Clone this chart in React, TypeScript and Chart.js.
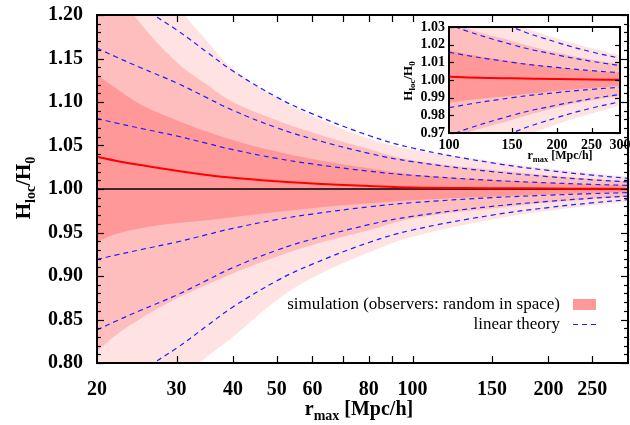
import React, { useEffect, useRef } from "react";
import { Chart, registerables } from "chart.js";

Chart.register(...registerables);

// ---------- data ----------
const rMax = [20, 22, 25, 30, 35, 40, 50, 60, 80, 100, 150, 200, 250, 300];

const simMean = [1.037, 1.0325, 1.0275, 1.021, 1.0162, 1.0128, 1.0088, 1.0062, 1.0035, 1.0018, 1.001, 1.0005, 1.0003, 1.0001];
const sim1Up = [1.131, 1.116, 1.097, 1.079, 1.066, 1.056, 1.043, 1.0345, 1.0238, 1.0168, 1.0105, 1.0071, 1.0052, 1.004];
const sim1Lo = [0.9395, 0.948, 0.955, 0.9605, 0.964, 0.9675, 0.9735, 0.978, 0.9836, 0.9872, 0.9912, 0.9938, 0.9955, 0.9966];
const sim2Up = [1.27, 1.23, 1.19, 1.146, 1.12, 1.1, 1.079, 1.065, 1.046, 1.033, 1.022, 1.0155, 1.0115, 1.009];
const sim2Lo = [0.813, 0.832, 0.851, 0.874, 0.89, 0.903, 0.922, 0.9355, 0.9525, 0.966, 0.9775, 0.9845, 0.9885, 0.991];
const sim3Up = [1.36, 1.32, 1.27, 1.212, 1.17, 1.138, 1.105, 1.084, 1.058, 1.045, 1.032, 1.0235, 1.018, 1.014];
const sim3Lo = [0.7, 0.72, 0.745, 0.78, 0.807, 0.83, 0.872, 0.898, 0.927, 0.945, 0.965, 0.975, 0.981, 0.9855];

const lin1Up = [1.081, 1.076, 1.0697, 1.061, 1.0525, 1.0452, 1.0352, 1.0288, 1.0205, 1.0157, 1.01, 1.0071, 1.0053, 1.0041];
const lin1Lo = [0.919, 0.924, 0.9303, 0.939, 0.9475, 0.9548, 0.9648, 0.9712, 0.9795, 0.9843, 0.99, 0.9929, 0.9947, 0.9959];
const lin2Up = [1.162, 1.152, 1.1394, 1.122, 1.105, 1.0904, 1.0704, 1.0576, 1.041, 1.0314, 1.02, 1.0142, 1.0106, 1.0082];
const lin2Lo = [0.838, 0.848, 0.8606, 0.878, 0.895, 0.9096, 0.9296, 0.9424, 0.959, 0.9686, 0.98, 0.9858, 0.9894, 0.9918];
const lin3Up = [1.243, 1.228, 1.2091, 1.183, 1.1575, 1.1356, 1.1056, 1.0864, 1.0615, 1.0471, 1.03, 1.0213, 1.0159, 1.0123];
const lin3Lo = [0.757, 0.772, 0.7909, 0.817, 0.8425, 0.8644, 0.8944, 0.9136, 0.9385, 0.9529, 0.97, 0.9787, 0.9841, 0.9877];

const refX = [20, 300];
const refY = [1.0, 1.0];

const xTicksMain = [20, 30, 40, 50, 60, 80, 100, 150, 200, 250];
const xTickMarksMain = [30, 40, 50, 60, 70, 80, 90, 100, 150, 200, 250];
const yTicksMain = [0.8, 0.85, 0.9, 0.95, 1.0, 1.05, 1.1, 1.15, 1.2];

const xTicksInset = [100, 150, 200, 250, 300];
const xTickMarksInset = [150, 200, 250];
const yTicksInset = [0.97, 0.98, 0.99, 1.0, 1.01, 1.02, 1.03];

const legendSim = "simulation (observers: random in space)";
const legendLin = "linear theory";

// ---------- styles ----------
const SERIF = '"Liberation Serif", "Times New Roman", serif';
const C_LIGHT = "rgb(255,227,227)";
const C_MED = "rgb(255,190,190)";
const C_DARK = "rgb(255,153,153)";
const C_BLUE = "rgb(30,30,255)";
const C_RED = "rgb(255,0,0)";

function pts(xs: number[], ys: number[]) {
  return xs.map((x, i) => ({ x, y: ys[i] }));
}

function buildDatasets(withRef: boolean, dashW: number, redW: number) {
  const hidden = {
    borderColor: "rgba(0,0,0,0)",
    borderWidth: 0,
    pointRadius: 0,
    tension: 0.4,
  };
  const line = (ys: number[]) => ({
    data: pts(rMax, ys),
    borderColor: C_BLUE,
    borderWidth: dashW,
    borderDash: [5, 4],
    pointRadius: 0,
    fill: false,
    order: 0,
    tension: 0.4,
  });
  const ds: any[] = [];
  ds.push({
    data: pts(rMax, simMean),
    borderColor: C_RED,
    borderWidth: redW,
    pointRadius: 0,
    fill: false,
    order: 0,
    tension: 0.4,
  });
  if (withRef) {
    ds.push({
      data: pts(refX, refY),
      borderColor: "#000",
      borderWidth: 1.5,
      pointRadius: 0,
      fill: false,
      order: 1,
    });
  }
  ds.push(line(lin1Up), line(lin1Lo), line(lin2Up), line(lin2Lo), line(lin3Up), line(lin3Lo));
  ds.push({ ...hidden, data: pts(rMax, sim1Up), fill: "+1", backgroundColor: C_DARK, order: 2 });
  ds.push({ ...hidden, data: pts(rMax, sim1Lo), fill: false, order: 2 });
  ds.push({ ...hidden, data: pts(rMax, sim2Up), fill: "+1", backgroundColor: C_MED, order: 3 });
  ds.push({ ...hidden, data: pts(rMax, sim2Lo), fill: false, order: 3 });
  ds.push({ ...hidden, data: pts(rMax, sim3Up), fill: "+1", backgroundColor: C_LIGHT, order: 4 });
  ds.push({ ...hidden, data: pts(rMax, sim3Lo), fill: false, order: 4 });
  return ds;
}

type Part = [string, boolean];
function drawRich(
  ctx: CanvasRenderingContext2D,
  parts: Part[],
  x: number,
  y: number,
  size: number,
  subSize: number,
  subShift: number,
  bold: boolean
) {
  const f = (s: number) => `${bold ? "bold " : ""}${s}px ${SERIF}`;
  let total = 0;
  for (const [t, sub] of parts) {
    ctx.font = f(sub ? subSize : size);
    total += ctx.measureText(t).width;
  }
  let cx = x - total / 2;
  ctx.textAlign = "left";
  ctx.textBaseline = "alphabetic";
  for (const [t, sub] of parts) {
    ctx.font = f(sub ? subSize : size);
    ctx.fillText(t, cx, y + (sub ? subShift : 0));
    cx += ctx.measureText(t).width;
  }
}

function seg(ctx: CanvasRenderingContext2D, x1: number, y1: number, x2: number, y2: number) {
  ctx.beginPath();
  ctx.moveTo(x1, y1);
  ctx.lineTo(x2, y2);
  ctx.stroke();
}

function frame(
  chart: any,
  xMarks: number[],
  yMajor: number[],
  yMinor: number[],
  majLen: number,
  minLen: number,
  borderW: number
) {
  const { ctx, chartArea: a, scales } = chart;
  const sx = scales.x;
  const sy = scales.y;
  ctx.save();
  ctx.strokeStyle = "#000";
  ctx.lineWidth = 1.2;
  for (const v of xMarks) {
    const px = Math.round(sx.getPixelForValue(v)) + 0.5;
    seg(ctx, px, a.bottom, px, a.bottom - majLen);
    seg(ctx, px, a.top, px, a.top + majLen);
  }
  for (const v of yMajor) {
    const py = Math.round(sy.getPixelForValue(v)) + 0.5;
    seg(ctx, a.left, py, a.left + majLen, py);
    seg(ctx, a.right, py, a.right - majLen, py);
  }
  for (const v of yMinor) {
    const py = Math.round(sy.getPixelForValue(v)) + 0.5;
    seg(ctx, a.left, py, a.left + minLen, py);
    seg(ctx, a.right, py, a.right - minLen, py);
  }
  ctx.lineWidth = borderW;
  ctx.strokeRect(a.left, a.top, a.right - a.left, a.bottom - a.top);
  ctx.restore();
}

function tickLabels(
  chart: any,
  xTicks: number[],
  yTicks: number[],
  font: string,
  xLabelY: number,
  yLabelX: number
) {
  const { ctx, scales } = chart;
  ctx.save();
  ctx.fillStyle = "#000";
  ctx.font = font;
  ctx.textAlign = "center";
  ctx.textBaseline = "middle";
  for (const v of xTicks) ctx.fillText(String(v), scales.x.getPixelForValue(v), xLabelY);
  ctx.textAlign = "right";
  for (const v of yTicks) ctx.fillText(v.toFixed(2), yLabelX, scales.y.getPixelForValue(v));
  ctx.restore();
}

const hiddenScales = (xmin: number, xmax: number, ymin: number, ymax: number) => ({
  x: { type: "logarithmic", min: xmin, max: xmax, display: false },
  y: { type: "linear", min: ymin, max: ymax, display: false },
});

export default function App() {
  const mainRef = useRef<HTMLCanvasElement | null>(null);
  const insetRef = useRef<HTMLCanvasElement | null>(null);

  useEffect(() => {
    const yMinorMain: number[] = [];
    for (let i = 80; i <= 120; i++) if (i % 5 !== 0) yMinorMain.push(i / 100);

    const mainPlugin = {
      id: "mainDecor",
      afterDraw(chart: any) {
        const ctx = chart.ctx as CanvasRenderingContext2D;
        frame(chart, xTickMarksMain, yTicksMain, yMinorMain, 7, 4, 2);
        tickLabels(chart, xTicksMain, yTicksMain, `bold 20px ${SERIF}`, 390, 83);
        ctx.save();
        ctx.fillStyle = "#000";
        drawRich(ctx, [["r", false], ["max", true], [" [Mpc/h]", false]], 359, 415, 20, 14, 5, true);
        ctx.translate(30, 188);
        ctx.rotate(-Math.PI / 2);
        drawRich(ctx, [["H", false], ["loc", true], ["/H", false], ["0", true]], 0, 0, 21, 14, 5, true);
        ctx.restore();
        // legend
        ctx.save();
        ctx.fillStyle = "#000";
        ctx.font = `17px ${SERIF}`;
        ctx.textAlign = "right";
        ctx.textBaseline = "middle";
        ctx.fillText(legendSim, 560, 305);
        ctx.fillText(legendLin, 560, 325);
        ctx.fillStyle = C_DARK;
        ctx.fillRect(573, 299, 23, 11);
        ctx.strokeStyle = C_BLUE;
        ctx.lineWidth = 1.2;
        ctx.setLineDash([5, 4]);
        seg(ctx, 573, 324.5, 597, 324.5);
        ctx.restore();
      },
    };

    const main = new Chart(mainRef.current as HTMLCanvasElement, {
      type: "line",
      data: { datasets: buildDatasets(true, 1.2, 2) },
      options: {
        animation: false,
        responsive: false,
        maintainAspectRatio: false,
        layout: { padding: { left: 97, top: 15, right: 2, bottom: 62 } },
        plugins: { legend: { display: false }, tooltip: { enabled: false } },
        scales: hiddenScales(20, 300, 0.8, 1.2),
      },
      plugins: [mainPlugin],
    } as any);

    const insetPlugin = {
      id: "insetDecor",
      beforeDatasetsDraw(chart: any) {
        const { ctx, chartArea: a } = chart;
        ctx.save();
        ctx.fillStyle = "#fff";
        ctx.fillRect(a.left, a.top, a.right - a.left, a.bottom - a.top);
        ctx.restore();
      },
      afterDraw(chart: any) {
        const ctx = chart.ctx as CanvasRenderingContext2D;
        frame(chart, xTickMarksInset, yTicksInset, [], 5, 3, 2);
        tickLabels(chart, xTicksInset, yTicksInset, `bold 14px ${SERIF}`, 145, 50);
        ctx.save();
        ctx.fillStyle = "#000";
        drawRich(ctx, [["r", false], ["max", true], [" [Mpc/h]", false]], 165, 159, 12, 8.5, 3, true);
        ctx.translate(17, 81);
        ctx.rotate(-Math.PI / 2);
        drawRich(ctx, [["H", false], ["loc", true], ["/H", false], ["0", true]], 0, 0, 13, 9, 3, true);
        ctx.restore();
      },
    };

    const inset = new Chart(insetRef.current as HTMLCanvasElement, {
      type: "line",
      data: { datasets: buildDatasets(false, 1.2, 2) },
      options: {
        animation: false,
        responsive: false,
        maintainAspectRatio: false,
        layout: { padding: { left: 54, top: 27, right: 10, bottom: 37 } },
        plugins: { legend: { display: false }, tooltip: { enabled: false } },
        scales: hiddenScales(100, 300, 0.97, 1.03),
      },
      plugins: [insetPlugin],
    } as any);

    return () => {
      main.destroy();
      inset.destroy();
    };
  }, []);

  return (
    <div style={{ position: "fixed", left: 0, top: 0, width: 630, height: 425, background: "#fff" }}>
      <canvas ref={mainRef} width={630} height={425} style={{ position: "absolute", left: 0, top: 0 }} />
      <canvas ref={insetRef} width={235} height={170} style={{ position: "absolute", left: 395, top: 0 }} />
    </div>
  );
}
